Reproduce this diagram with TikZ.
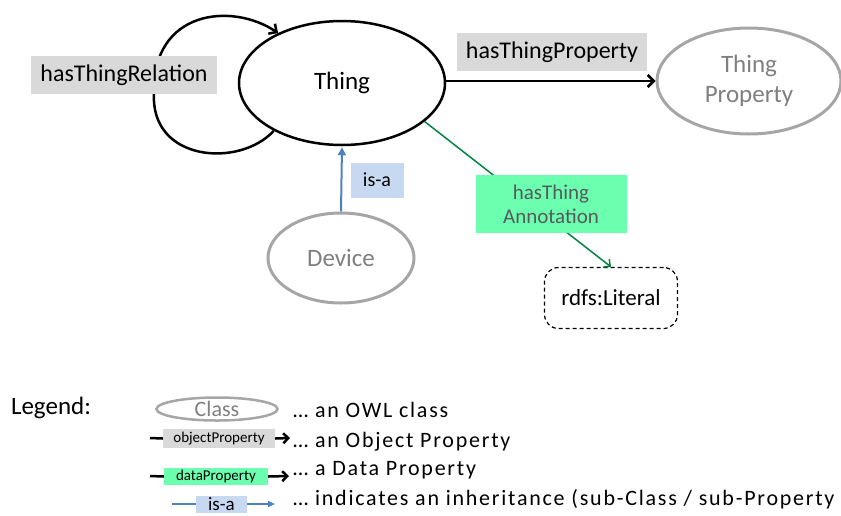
\documentclass[tikz,border=0pt]{standalone}
\usepackage{fontspec}
\setmainfont{Carlito}
\newfontfamily\legendfont[LetterSpace=8]{Carlito}
\usetikzlibrary{arrows.meta,positioning,shapes.geometric}

\definecolor{propgray}{RGB}{217,217,217}
\definecolor{datagreen}{RGB}{107,255,176}
\definecolor{isablue}{RGB}{198,217,241}
\definecolor{isaline}{RGB}{79,129,189}
\definecolor{annline}{RGB}{0,133,62}
\definecolor{clsgray}{RGB}{166,166,166}
\definecolor{clstext}{RGB}{127,127,127}
\definecolor{anntext}{RGB}{89,89,89}

\begin{document}
\begin{tikzpicture}[x=1pt,y=-1pt]
		\tikzstyle{thing}=[ellipse, draw=black, line width=2.5pt, inner sep=0pt, font=\fontsize{25}{30}\selectfont]
		\tikzstyle{cls}=[ellipse, draw=clsgray, line width=3pt, inner sep=0pt, text=clstext, align=center, font=\fontsize{25}{30}\selectfont]
		\tikzstyle{objlabel}=[rectangle, fill=propgray, inner sep=0pt, font=\fontsize{24}{28}\selectfont]
		\tikzstyle{datalabel}=[rectangle, fill=datagreen, inner sep=0pt, text=anntext, align=center, font=\fontsize{21}{24}\selectfont]
		\tikzstyle{isalabel}=[rectangle, fill=isablue, inner sep=0pt, font=\fontsize{20}{24}\selectfont]
		\tikzstyle{literal}=[rectangle, rounded corners=14pt, draw=black, line width=1.2pt, dash pattern=on 4pt off 3pt, inner sep=0pt, font=\fontsize{23}{28}\selectfont]
		\tikzstyle{objconnect}=[line width=2.5pt, -{Straight Barb[length=6pt, width=12pt]}]
		\tikzstyle{dataconnect}=[line width=1.5pt, draw=annline, -{Straight Barb[length=5pt, width=10pt]}]
		\tikzstyle{isaconnect}=[line width=2pt, draw=isaline, -{Triangle[length=8pt, width=8pt]}]
		\tikzstyle{legtext}=[anchor=base west, inner sep=0pt, font=\legendfont\fontsize{22}{26}\selectfont]
		\useasboundingbox (0,0) rectangle (841,515);
		
		\node[thing, minimum width=206pt, minimum height=124pt] (thing) at (342,83) {Thing};
		\node[cls, minimum width=184pt, minimum height=106pt] (thingprop) at (749,81) {Thing\\Property};
		\node[cls, minimum width=146pt, minimum height=90pt] (device) at (341,258) {Device};
		\node[literal, minimum width=133pt, minimum height=61pt] (literal) at (611,298) {rdfs:Literal};
		
		% self relation, partly under its label
		\draw[objconnect] (thing.215) .. controls (240,168) and (150,162) .. (154,93)
			.. controls (152,10) and (232,2) .. (thing.142);
		\node[objlabel, minimum width=186pt, minimum height=38pt] (relation) at (124,75) {hasThingRelation};
		
		\draw[objconnect] (thing.east |- thingprop.west) -- (thingprop.west);
		\node[objlabel, minimum width=190pt, minimum height=38pt] (property) at (552,52) {hasThingProperty};
		
		\draw[isaconnect, shorten >=1pt] (device.north) -- (thing.south);
		\node[isalabel, minimum width=53pt, minimum height=35pt] (isa) at (377,180) {is-a};
		
		\draw[dataconnect] (thing.-25) -- (literal.north);
		\node[datalabel, minimum width=151pt, minimum height=58pt] (annotation) at (551,204) {hasThing\\Annotation};
		
		% legend
		\node[inner sep=0pt, font=\fontsize{25}{30}\selectfont] (legend) at (51,408) {Legend:};
		\node[cls, line width=2.5pt, minimum width=121pt, minimum height=23pt, font=\fontsize{22}{26}\selectfont] (legclass) at (217,409) {Class};
		\node[legtext] (legclasstxt) at (293,417) {… an OWL class};
		
		\coordinate (objstart) at (150,438);
		\coordinate (objend) at (290,438);
		\node[objlabel, minimum width=112pt, minimum height=19pt, font=\fontsize{15}{18}\selectfont] (legobj) at (219,438.5) {objectProperty};
		\draw[line width=2.5pt] (objstart) -- (legobj.west);
		\draw[objconnect, -{Straight Barb[length=5pt, width=10pt]}] (legobj.east) -- (objend);
		\node[legtext] (legobjtxt) at (293,447) {… an Object Property};
		
		\coordinate (datastart) at (150,476);
		\coordinate (dataend) at (289,476);
		\node[datalabel, text=black, minimum width=104pt, minimum height=17pt, font=\fontsize{15}{18}\selectfont] (legdata) at (216,476.5) {dataProperty};
		\draw[line width=2.5pt] (datastart) -- (legdata.west);
		\draw[objconnect, -{Straight Barb[length=5pt, width=10pt]}] (legdata.east) -- (dataend);
		\node[legtext] (legdatatxt) at (293,475) {… a Data Property};
		
		\coordinate (isastart) at (172,504);
		\coordinate (isaend) at (275,504);
		\node[isalabel, minimum width=51pt, minimum height=17pt, font=\fontsize{19}{22}\selectfont] (legisa) at (221.5,504) {is-a};
		\draw[line width=2pt, draw=isaline] (isastart) -- (legisa.west);
		\draw[isaconnect, -{Triangle[length=7pt, width=6pt]}] (legisa.east) -- (isaend);
		\node[legtext] (legisatxt) at (293,505) {… indicates an inheritance (sub-Class / sub-Property};
	\end{tikzpicture}
\end{document}
